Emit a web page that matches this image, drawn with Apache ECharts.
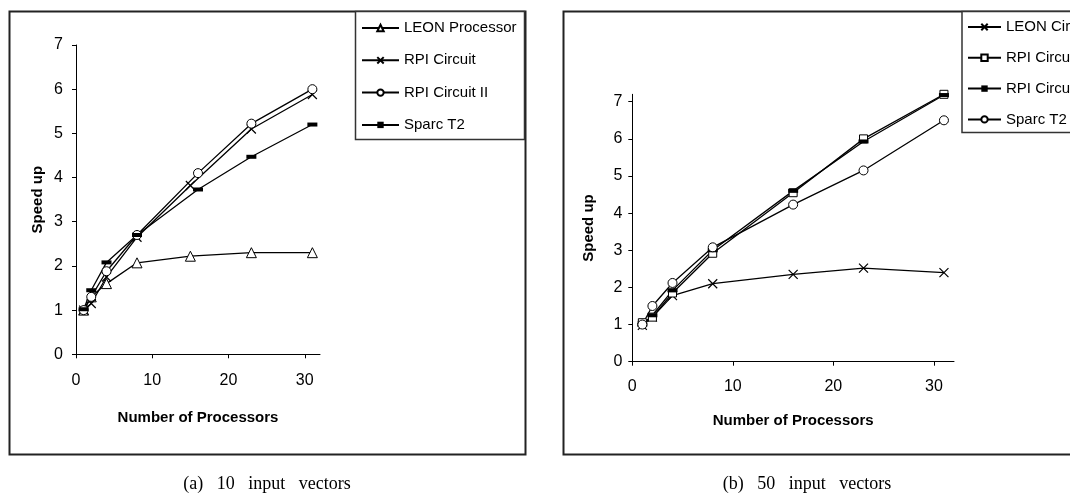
<!DOCTYPE html>
<html>
<head>
<meta charset="utf-8">
<script src="https://cdn.jsdelivr.net/npm/echarts@6/dist/echarts.min.js"></script>
<style>html,body{margin:0;padding:0;background:#fff}#c{width:1070px;height:498px}</style>
</head>
<body>
<div id="c"></div>
<script>
// ---- Data: (a) 10 input vectors ----
const aLeonX = [1, 2, 4, 8, 15, 23, 31];
const aLeonY = [1.0, 1.3, 1.6, 2.07, 2.22, 2.3, 2.3];
const aRpiX = [1, 2, 4, 8, 15, 23, 31];
const aRpiY = [1.0, 1.15, 1.75, 2.65, 3.82, 5.1, 5.88];
const aRpi2X = [1, 2, 4, 8, 16, 23, 31];
const aRpi2Y = [1.0, 1.3, 1.88, 2.7, 4.1, 5.22, 6.0];
const aSparcX = [1, 2, 4, 8, 16, 23, 31];
const aSparcY = [1.02, 1.45, 2.08, 2.7, 3.73, 4.47, 5.2];
// ---- Data: (b) 50 input vectors ----
const bX = [1, 2, 4, 8, 16, 23, 31];
const bLeonY = [0.98, 1.2, 1.78, 2.1, 2.35, 2.52, 2.4];
const bRpiY = [1.05, 1.2, 1.85, 2.92, 4.55, 6.0, 7.2];
const bRpi2Y = [1.0, 1.25, 1.92, 3.0, 4.6, 5.93, 7.18];
const bSparcY = [1.0, 1.5, 2.12, 3.08, 4.23, 5.15, 6.5];
// ---- Labels ----
const aNames = ['LEON Processor', 'RPI Circuit', 'RPI Circuit II', 'Sparc T2'];
const bNames = ['LEON Circuit', 'RPI Circuit', 'RPI Circuit II', 'Sparc T2'];
const xTitle = 'Number of Processors';
const yTitle = 'Speed up';
const capA = '(a)   10   input   vectors';
const capB = '(b)   50   input   vectors';

const zip = (xs, ys) => xs.map((x, i) => [x, ys[i]]);
const F = "'Liberation Sans', Arial, sans-serif";
const crossPath = 'path://M0,0L10,10M10,0L0,10';
const ZW = '\u200b'; // keeps panel (b) series names distinct from panel (a)

const SYM = {
  tri: { symbol: 'triangle', symbolSize: 10, itemStyle: { color: '#fff', borderColor: '#000', borderWidth: 1 } },
  cross: { symbol: crossPath, symbolSize: 9, itemStyle: { color: '#fff', borderColor: '#000', borderWidth: 1.2 } },
  circ: { symbol: 'circle', symbolSize: 9, itemStyle: { color: '#fff', borderColor: '#000', borderWidth: 1 } },
  sq: { symbol: 'rect', symbolSize: 8, itemStyle: { color: '#fff', borderColor: '#000', borderWidth: 1 } },
  dash: { symbol: 'rect', symbolSize: [10, 4], itemStyle: { color: '#000', borderColor: '#000', borderWidth: 0 } }
};
function ser(name, idx, data, s) {
  return Object.assign({
    type: 'line', name: name, xAxisIndex: idx, yAxisIndex: idx, data: data,
    showAllSymbol: true, animation: false,
    lineStyle: { color: '#000', width: 1.3 }
  }, SYM[s]);
}
const axisCommon = {
  axisLine: { show: true, onZero: false, lineStyle: { color: '#000', width: 1 } },
  axisTick: { show: true, length: 4, lineStyle: { color: '#000' } },
  splitLine: { show: false },
  axisLabel: { color: '#000', fontFamily: F, fontSize: 16 },
  nameTextStyle: { color: '#000', fontFamily: F, fontWeight: 'bold', fontSize: 15 },
  nameLocation: 'middle'
};
function xAx(idx, gap, lm) {
  return Object.assign({}, axisCommon, { type: 'value', gridIndex: idx, min: 0, max: 32, interval: 10, name: xTitle, nameGap: gap,
    axisLabel: Object.assign({}, axisCommon.axisLabel, { margin: lm, showMaxLabel: false }) });
}
function yAx(idx, max, gap, lm) {
  return Object.assign({}, axisCommon, { type: 'value', gridIndex: idx, min: 0, max: max, interval: 1, name: yTitle, nameGap: gap,
    axisLabel: Object.assign({}, axisCommon.axisLabel, { margin: lm, showMaxLabel: max === 7 }) });
}
const legendCommon = {
  orient: 'vertical', itemHeight: 8,
  textStyle: { color: '#000', fontFamily: F, fontSize: 15, lineHeight: 14 },
  backgroundColor: 'transparent', borderWidth: 0, padding: 0, selectedMode: false
};

const chart = echarts.init(document.getElementById('c'), null, { renderer: 'canvas' });
chart.setOption({
  backgroundColor: '#fff',
  animation: false,
  grid: [
    { left: 76, top: 45, width: 244, height: 309.3 },
    { left: 632.3, top: 94.3, width: 321.7, height: 267.4 }
  ],
  xAxis: [xAx(0, 56, 18), xAx(1, 52, 17)],
  yAxis: [yAx(0, 7, 31, 13), yAx(1, 7.2, 36, 10)],
  legend: [
    Object.assign({}, legendCommon, { left: 361, top: 20.5, itemWidth: 37, itemGap: 17.3,
      data: aNames.map(n => ({ name: n })) }),
    Object.assign({}, legendCommon, { left: 967, top: 19.5, itemWidth: 33, itemGap: 15.8,
      data: bNames.map(n => ({ name: n + ZW })), formatter: n => n.replace(ZW, '') })
  ],
  series: [
    ser(aNames[0], 0, zip(aLeonX, aLeonY), 'tri'),
    ser(aNames[1], 0, zip(aRpiX, aRpiY), 'cross'),
    ser(aNames[2], 0, zip(aRpi2X, aRpi2Y), 'circ'),
    ser(aNames[3], 0, zip(aSparcX, aSparcY), 'dash'),
    ser(bNames[0] + ZW, 1, zip(bX, bLeonY), 'cross'),
    ser(bNames[1] + ZW, 1, zip(bX, bRpiY), 'sq'),
    ser(bNames[2] + ZW, 1, zip(bX, bRpi2Y), 'dash'),
    ser(bNames[3] + ZW, 1, zip(bX, bSparcY), 'circ')
  ],
  graphic: [
    { type: 'rect', z: -1, shape: { x: 9.5, y: 11.5, width: 516, height: 443 }, style: { fill: 'none', stroke: '#222', lineWidth: 2 } },
    { type: 'rect', z: 0, shape: { x: 355.5, y: 11.5, width: 169, height: 128 }, style: { fill: '#fff', stroke: '#333', lineWidth: 1.5 } },
    { type: 'rect', z: -1, shape: { x: 563.5, y: 11.5, width: 520, height: 443 }, style: { fill: 'none', stroke: '#222', lineWidth: 2 } },
    { type: 'rect', z: 0, shape: { x: 962, y: 11.5, width: 120, height: 121 }, style: { fill: '#fff', stroke: '#333', lineWidth: 1.5 } },
    { type: 'text', style: { text: capA, x: 267, y: 484, textAlign: 'center', textVerticalAlign: 'middle', font: "18px 'Liberation Serif', 'Times New Roman', serif", fill: '#000' } },
    { type: 'text', style: { text: capB, x: 807, y: 484, textAlign: 'center', textVerticalAlign: 'middle', font: "18px 'Liberation Serif', 'Times New Roman', serif", fill: '#000' } }
  ]
});
</script>
</body>
</html>
